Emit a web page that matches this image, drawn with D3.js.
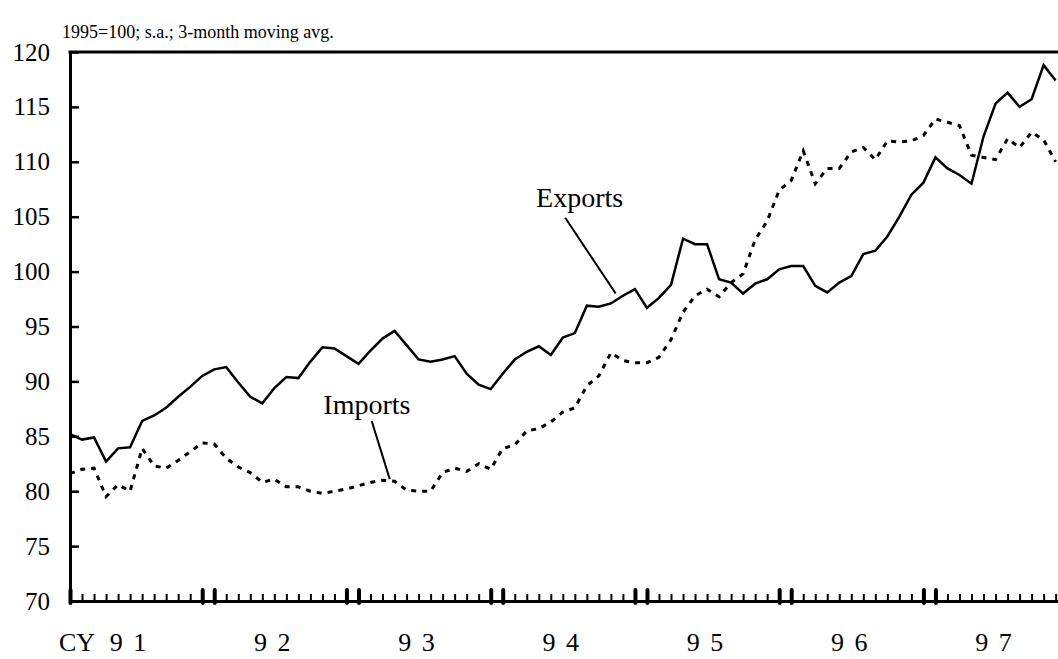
<!DOCTYPE html>
<html>
<head>
<meta charset="utf-8">
<script src="https://cdn.jsdelivr.net/npm/d3@7"></script>
<style>
  body { margin: 0; background: #fff; }
  text { font-family: "Liberation Serif", "Times New Roman", serif; fill: #000; }
</style>
</head>
<body>
<svg id="chart" width="1058" height="659"></svg>
<script>
// monthly index, 0 = Jan 1991
var exportsVals = [85.2, 84.7, 84.9, 82.7, 83.9, 84.0, 86.4, 86.9, 87.6, 88.6, 89.5, 90.5,
  91.1, 91.3, 89.9, 88.6, 88.0, 89.4, 90.4, 90.3, 91.8, 93.1, 93.0, 92.3,
  91.6, 92.8, 93.9, 94.6, 93.3, 92.0, 91.8, 92.0, 92.3, 90.7, 89.7, 89.3,
  90.7, 92.0, 92.7, 93.2, 92.4, 94.0, 94.4, 96.9, 96.8, 97.1, 97.8, 98.4,
  96.7, 97.6, 98.8, 103.0, 102.5, 102.5, 99.3, 99.0, 98.0, 98.9, 99.3, 100.2,
  100.5, 100.5, 98.7, 98.1, 99.0, 99.6, 101.6, 101.9, 103.2, 105.0, 107.0, 108.1,
  110.4, 109.4, 108.8, 108.0, 112.3, 115.3, 116.3, 115.0, 115.7, 118.8, 117.4];

var importsVals = [81.6, 82.0, 82.1, 79.5, 80.6, 80.0, 83.9, 82.3, 82.1, 82.8, 83.6, 84.4,
  84.3, 83.0, 82.2, 81.7, 80.8, 81.1, 80.4, 80.4, 80.0, 79.8, 80.0, 80.2,
  80.5, 80.8, 81.0, 80.9, 80.1, 80.0, 80.0, 81.7, 82.1, 81.8, 82.5, 82.0,
  83.9, 84.2, 85.5, 85.7, 86.3, 87.2, 87.6, 89.6, 90.5, 92.6, 91.9, 91.7,
  91.7, 92.2, 93.8, 96.3, 97.8, 98.4, 97.7, 99.0, 99.8, 102.9, 104.6, 107.4,
  108.3, 111.0, 108.0, 109.4, 109.4, 110.9, 111.3, 110.2, 111.9, 111.8, 111.9, 112.4,
  113.9, 113.6, 113.3, 110.6, 110.4, 110.2, 112.1, 111.3, 112.7, 112.0, 110.0];

var yTicks = [70, 75, 80, 85, 90, 95, 100, 105, 110, 115, 120];
var yearLabels = ['9 1', '9 2', '9 3', '9 4', '9 5', '9 6', '9 7'];
var subtitle = '1995=100; s.a.; 3-month moving avg.';

// label anchors in data terms: [month index, value]
var seriesNotes = [
  { name: 'Exports', text: [42.4, 105.9], from: [41.2, 104.9], to: [45.4, 98.0] },
  { name: 'Imports', text: [24.7, 87.0], from: [25.1, 86.4], to: [26.6, 81.1] }
];

var svg = d3.select('#chart');
var monthW = 12.02;
var x = d3.scaleLinear().domain([0, 84]).range([70, 70 + 84 * monthW]);
var y = d3.scaleLinear().domain([70, 120]).range([601, 52]);

// subtitle
svg.append('text')
  .attr('x', 62).attr('y', 38)
  .style('font-size', '18px')
  .text(subtitle);

// y axis
var yAxis = d3.axisLeft(y).tickValues(yTicks).tickSize(-9).tickSizeOuter(0).tickPadding(20);
var gy = svg.append('g').attr('transform', 'translate(' + x(0) + ',0)').call(yAxis);
gy.select('.domain').attr('stroke', '#000').attr('stroke-width', 3);
gy.selectAll('.tick line').attr('stroke', '#000').attr('stroke-width', 2.5);
gy.selectAll('.tick text').style('font-size', '25px').attr('fill', '#000');

// top border
svg.append('line')
  .attr('x1', x(0) - 1.5).attr('x2', 1070)
  .attr('y1', y(120)).attr('y2', y(120))
  .attr('stroke', '#000').attr('stroke-width', 3);

// x axis: a tick per month, doubled heavy ticks at year boundaries
var months = d3.range(0, 85);
function heavy(d) { return d % 12 === 0 || d % 12 === 11; }
var xAxis = d3.axisBottom(x).tickValues(months).tickSize(-7).tickSizeOuter(0).tickFormat('');
var gx = svg.append('g').attr('transform', 'translate(0,' + y(70) + ')').call(xAxis);
gx.select('.domain').attr('stroke', '#000').attr('stroke-width', 3);
gx.selectAll('.tick line')
  .attr('stroke', '#000')
  .attr('stroke-width', function (d) { return heavy(d) ? 4 : 2; })
  .attr('stroke-linecap', function (d) { return heavy(d) ? 'round' : 'butt'; })
  .attr('y1', function (d) { return heavy(d) ? 2 : 0; })
  .attr('y2', function (d) { return heavy(d) ? -11 : -7; });

// year labels
svg.append('text')
  .attr('x', x(0) + 25).attr('y', 651)
  .attr('text-anchor', 'end')
  .style('font-size', '26px')
  .text('CY');
svg.selectAll('.year')
  .data(yearLabels)
  .enter().append('text')
  .attr('class', 'year')
  .attr('x', function (d, i) { return x(i * 12 + 5.5) - 7; })
  .attr('y', 651)
  .attr('text-anchor', 'middle')
  .style('font-size', '26px')
  .style('letter-spacing', '2px')
  .style('white-space', 'pre')
  .text(function (d) { return d; });

// series lines
var line = d3.line()
  .x(function (d, i) { return x(i); })
  .y(function (d) { return y(d); });

svg.append('path')
  .datum(importsVals)
  .attr('fill', 'none')
  .attr('stroke', '#000')
  .attr('stroke-width', 3)
  .attr('stroke-dasharray', '5,6')
  .attr('d', line);

svg.append('path')
  .datum(exportsVals)
  .attr('fill', 'none')
  .attr('stroke', '#000')
  .attr('stroke-width', 2.5)
  .attr('d', line);

// labels with leader lines
seriesNotes.forEach(function (n) {
  svg.append('line')
    .attr('x1', x(n.from[0])).attr('y1', y(n.from[1]))
    .attr('x2', x(n.to[0])).attr('y2', y(n.to[1]))
    .attr('stroke', '#000').attr('stroke-width', 2);
  svg.append('text')
    .attr('x', x(n.text[0])).attr('y', y(n.text[1]))
    .attr('text-anchor', 'middle')
    .style('font-size', '28px')
    .text(n.name);
});
</script>
</body>
</html>
